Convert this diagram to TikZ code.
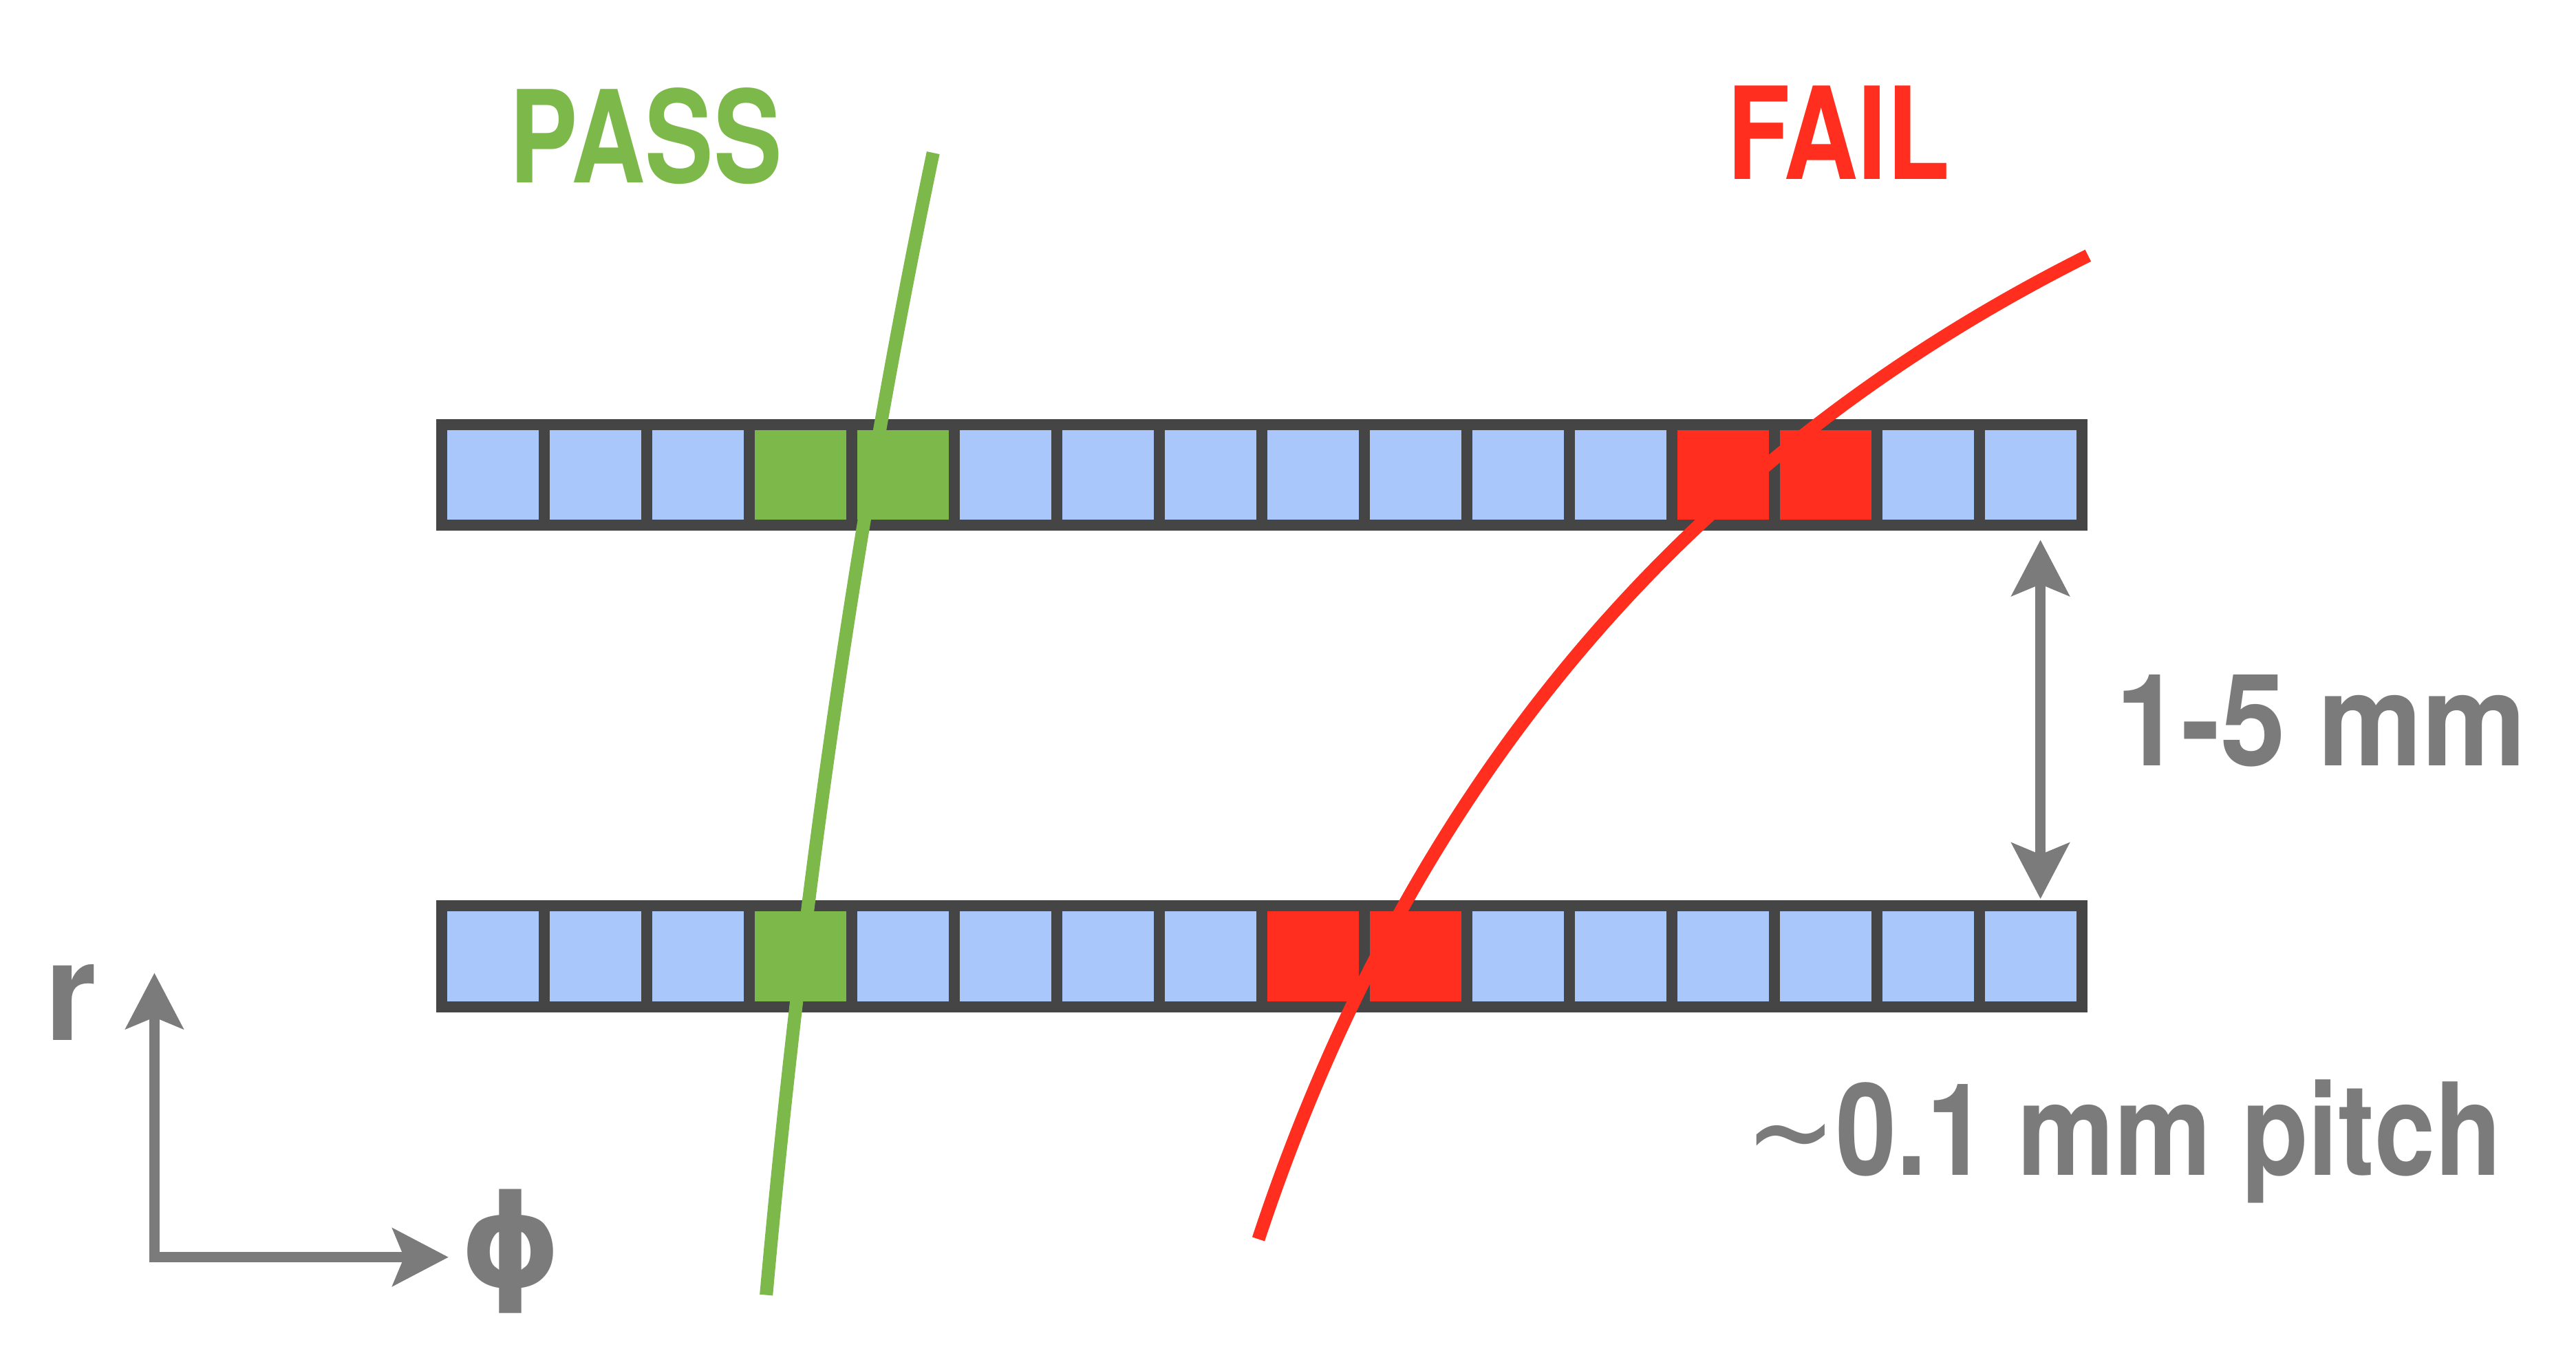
\documentclass[tikz,border=0pt]{standalone}
\usepackage{fontspec}
\usepackage{graphicx}
\setmainfont{TeX Gyre Heros}
\newfontfamily\symfont{DejaVu Sans}
\usetikzlibrary{arrows.meta}
\definecolor{cellblue}{RGB}{170,199,252}
\definecolor{framegray}{RGB}{69,69,69}
\definecolor{passgreen}{RGB}{125,185,74}
\definecolor{failred}{RGB}{255,46,30}
\definecolor{labelgray}{RGB}{123,123,123}
\tikzset{
  bigtext/.style={inner sep=0pt, anchor=base, font=\fontsize{39pt}{39pt}\selectfont\bfseries},
  track/.style={line width=4pt, line cap=butt, line join=round},
  gaparrow/.style={labelgray, line width=3pt, >={Stealth[length=17pt,width=17.5pt,inset=3.5pt]}},
}
\begin{document}
\begin{tikzpicture}[x=0.5pt,y=-0.5pt]
\useasboundingbox (0,0) rectangle (1568,834);
% frames
\fill[framegray] (265.5,255) rectangle (1270.6,323);
\fill[framegray] (265.5,548) rectangle (1270.6,616);
% top row cells
\foreach \i/\c in {0/cellblue,1/cellblue,2/cellblue,3/passgreen,4/passgreen,5/cellblue,6/cellblue,7/cellblue,8/cellblue,9/cellblue,10/cellblue,11/cellblue,12/failred,13/failred,14/cellblue,15/cellblue}
  \fill[\c] ({265.5+6.7+\i*62.4},261.7) rectangle ({265.5+(\i+1)*62.4},316.3);
% bottom row cells
\foreach \i/\c in {0/cellblue,1/cellblue,2/cellblue,3/passgreen,4/cellblue,5/cellblue,6/cellblue,7/cellblue,8/failred,9/failred,10/cellblue,11/cellblue,12/cellblue,13/cellblue,14/cellblue,15/cellblue}
  \fill[\c] ({265.5+6.7+\i*62.4},554.7) rectangle ({265.5+(\i+1)*62.4},609.3);
% tracks
\coordinate (greenTop) at (568,93);
\coordinate (greenBot) at (466.4,788);
\coordinate (redTop) at (1271,155.5);
\coordinate (redBot) at (766,754);
\draw[track, passgreen] (greenTop) .. controls (522.5,309.9) and (488.6,541.6) .. (greenBot);
\draw[track, failred] (redTop) .. controls (1025.7,278.2) and (857.3,477.7) .. (redBot);
% labels
\node[bigtext, passgreen] (pass) at (393,111) {\scalebox{0.80}[1]{PASS}};
\node[bigtext, failred] (fail) at (1119,109) {\scalebox{0.805}[1]{FAIL}};
\node[bigtext, labelgray] (gaplabel) at (1413,466) {\scalebox{0.914}[1]{1-5 mm}};
\node[bigtext, labelgray] (pitchlabel) at (1292.5,715) {\scalebox{0.85}[1]{{\symfont\mdseries\char"7E}0.1 mm pitch}};
% gap arrow
\coordinate (gapTop) at (1242,328.5);
\coordinate (gapBot) at (1242,547);
\draw[gaparrow, <->] (gapTop) -- (gapBot);
% axes
\coordinate (rtip) at (94,592);
\coordinate (phitip) at (273,765);
\draw[gaparrow, <->] (rtip) |- (phitip);
\node[inner sep=0pt, anchor=base, labelgray, font=\fontsize{42pt}{42pt}\selectfont\bfseries] (rlabel) at (43,633) {\scalebox{0.96}[1]{r}};
\node[inner sep=0pt, anchor=center, labelgray, font=\symfont\fontsize{39pt}{39pt}\selectfont\bfseries] (philabel) at (311,761.5) {ϕ};
\end{tikzpicture}
\end{document}
